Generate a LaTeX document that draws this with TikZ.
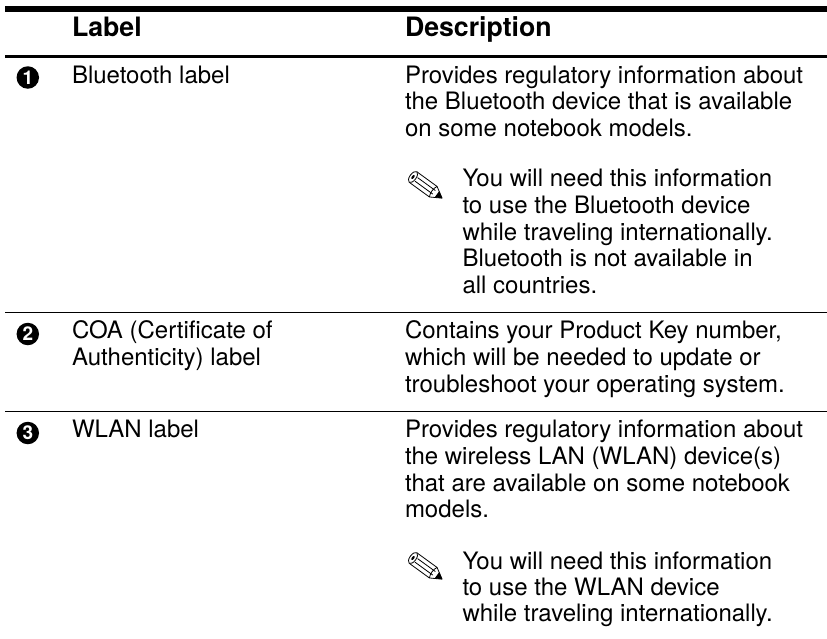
\documentclass[tikz,border=0pt]{standalone}
\usepackage{fontspec}
\setmainfont{TeX Gyre Heros}
\newcommand{\pencil}{%
 \begin{scope}[rotate=-36,line width=0.8pt,line join=round,draw=black]
 \draw[fill=white] (0,-6.5) -- (25,-6.5) -- (36,0) -- (25,6.5) -- (0,6.5);
 \draw[fill=white] (0,0) ellipse [x radius=3.2,y radius=6.5];
 \draw (4,-2.2) -- (26,-2.2) (4,2.2) -- (26,2.2);
 \draw (25,-6.5) .. controls (23,-3) and (23,3) .. (25,6.5);
 \fill (36,0) -- (29.5,-3.8) -- (29.5,3.8) -- cycle;
 \fill (0,0) ellipse [x radius=1.2,y radius=2.4];
 \end{scope}}
\tikzset{
 x=1pt,y=-1pt,
 txt/.style={anchor=base west,inner sep=0pt,outer sep=0pt,align=left,font=\fontsize{24}{26.7}\selectfont,text=black},
 head/.style={txt,font=\fontsize{26.7}{26.7}\selectfont\bfseries},
 thick rule/.style={line width=6pt,black},
 mid rule/.style={line width=3.3pt,black},
 thin rule/.style={line width=1.2pt,black},
 badge/.style={circle,fill=black,inner sep=0pt,minimum size=22.5pt,font=\fontsize{19}{19}\selectfont\bfseries,text=white}
}
\begin{document}
\begin{tikzpicture}
\useasboundingbox (0,0) rectangle (827,638);
\fill[white] (0,0) rectangle (827,638);
\coordinate (r1a) at (5,9); \coordinate (r1b) at (827,9);
\coordinate (r2a) at (5,56.7); \coordinate (r2b) at (827,56.7);
\coordinate (r3a) at (5,312.4); \coordinate (r3b) at (827,312.4);
\coordinate (r4a) at (5,411.2); \coordinate (r4b) at (827,411.2);
\draw[thick rule] (r1a) -- (r1b);
\draw[mid rule] (r2a) -- (r2b);
\draw[thin rule] (r3a) -- (r3b);
\draw[thin rule] (r4a) -- (r4b);
\node[head] (hl) at (72,36.7) {Label};
\node[head] (hd) at (405,36.7) {Description};
\node[badge] (n1) at (27.8,77.5) {1};
\node[badge] (n2) at (27.8,334) {2};
\node[badge] (n3) at (27.8,433) {3};
\node[txt] (l1) at (72,83) {Bluetooth label};
\node[txt] (l2) at (72,338.5) {COA (Certificate of};
\node[txt] (l2b) at (72,365.3) {Authenticity) label};
\node[txt] (l3) at (72,437.5) {WLAN label};
\node[txt] (d1a) at (405,83) {Provides regulatory information about};
\node[txt] (d1b) at (405,109.8) {the Bluetooth device that is available};
\node[txt] (d1c) at (405,136.6) {on some notebook models.};
\node[txt] (n1a) at (462.5,186.7) {You will need this information};
\node[txt] (n1b) at (462.5,213.4) {to use the Bluetooth device};
\node[txt] (n1c) at (462.5,240.1) {while traveling internationally.};
\node[txt] (n1d) at (462.5,266.8) {Bluetooth is not available in};
\node[txt] (n1e) at (462.5,293.5) {all countries.};
\node[txt] (d2a) at (405,338.5) {Contains your Product Key number,};
\node[txt] (d2b) at (405,365.5) {which will be needed to update or};
\node[txt] (d2c) at (405,392.5) {troubleshoot your operating system.};
\node[txt] (d3a) at (405,437.5) {Provides regulatory information about};
\node[txt] (d3b) at (405,464.3) {the wireless LAN (WLAN) device(s)};
\node[txt] (d3c) at (405,491) {that are available on some notebook};
\node[txt] (d3d) at (405,517.7) {models.};
\node[txt] (n3a) at (462.5,569) {You will need this information};
\node[txt] (n3b) at (462.5,595.3) {to use the WLAN device};
\node[txt] (n3c) at (462.5,621.7) {while traveling internationally.};
\begin{scope}[shift={(413,177)}] \pencil \end{scope}
\begin{scope}[shift={(413,558)}] \pencil \end{scope}
\end{tikzpicture}
\end{document}
